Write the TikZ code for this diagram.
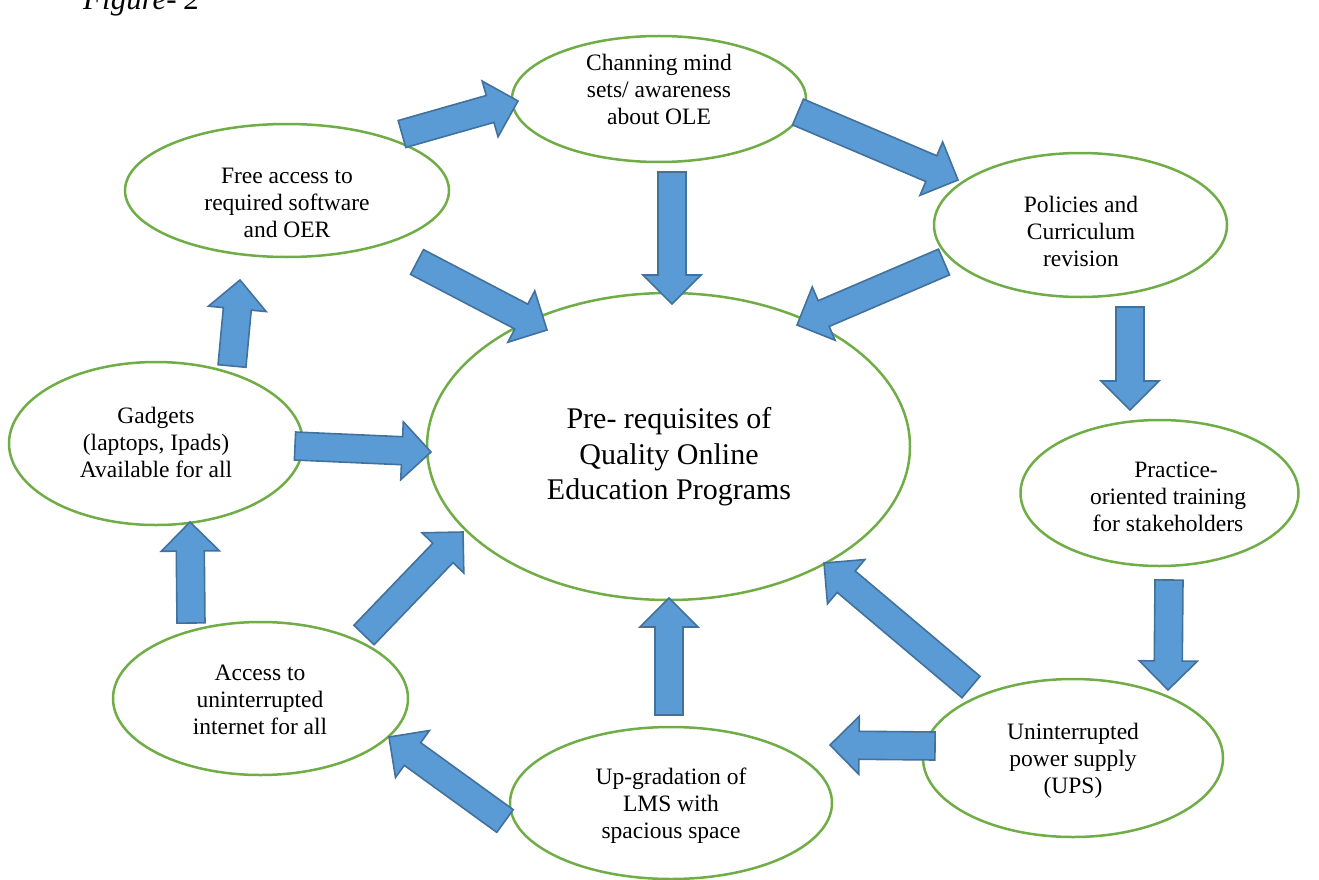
\documentclass[tikz,border=0pt]{standalone}
\usepackage{fontspec}
\setmainfont{Liberation Serif}
\usetikzlibrary{shapes.geometric,calc}
\definecolor{egreen}{HTML}{70AD47}
\definecolor{afill}{HTML}{5B9BD5}
\definecolor{aline}{HTML}{41719C}
\tikzset{
  ell/.style={ellipse, draw=egreen, line width=2.5pt, fill=white, inner sep=0pt},
  lbl/.style={align=center, font=\fontsize{23.5}{27}\selectfont, inner sep=0pt},
  bigl/.style={align=center, font=\fontsize{30}{35.5}\selectfont, inner sep=0pt},
  blockarrow/.style={fill=afill, draw=aline, line width=1.6pt, line join=miter},
}
\newcommand\blk[2]{\path[blockarrow] let \p1=(#1), \p2=(#2), \n1={atan2(\y2-\y1,\x2-\x1)}, \n2={veclen(\x2-\x1,\y2-\y1)} in [shift={(\p1)}, rotate=\n1] (0,-14) -- (\n2-29,-14) -- (\n2-29,-29) -- (\n2,0) -- (\n2-29,29) -- (\n2-29,14) -- (0,14) -- cycle;}
\begin{document}
\begin{tikzpicture}[x=1pt,y=-1pt]
\useasboundingbox (0,0) rectangle (1319,880);
\node[anchor=base west, inner sep=0pt, font=\itshape\fontsize{31}{36}\selectfont] (fig) at (83,10) {Figure- 2};
% ellipses
\node[ell, minimum width=294, minimum height=126] (e1) at (659,99) {};
\node[ell, minimum width=324, minimum height=133] (e2) at (287,190.5) {};
\node[ell, minimum width=293, minimum height=144] (e3) at (1080.5,225) {};
\node[ell, minimum width=483, minimum height=307] (ec) at (668.5,446.5) {};
\node[ell, minimum width=294, minimum height=163] (e5) at (156,443.5) {};
\node[ell, minimum width=278, minimum height=146] (e6) at (1159.5,493) {};
\node[ell, minimum width=295, minimum height=153] (e7) at (260.5,698.5) {};
\node[ell, minimum width=322, minimum height=152] (e8) at (671,803) {};
\node[ell, minimum width=300, minimum height=158] (e9) at (1073,758) {};
% texts
\node[lbl] (t1) at (659,89) {Channing mind\\sets/ awareness\\about OLE};
\node[lbl] (t2) at (287,203) {Free access to\\required software\\and OER};
\node[lbl] (t3) at (1081,231) {Policies and\\Curriculum\\revision};
\node[bigl] (tc) at (669,457) {Pre- requisites of\\Quality Online\\Education Programs};
\node[lbl] (t5) at (156,442) {Gadgets\\(laptops, Ipads)\\Available for all};
\node[lbl] (t6) at (1168,497) {\hspace*{16pt}Practice-\\oriented training\\for stakeholders};
\node[lbl] (t7) at (260,700) {Access to\\uninterrupted\\internet for all};
\node[lbl] (t8) at (671,806) {Up-gradation of\\LMS with\\spacious space};
\node[lbl] (t9) at (1073,761) {Uninterrupted\\power supply\\(UPS)};
% arrow end points
\coordinate (a1s) at (402,134);  \coordinate (a1e) at (518,101);
\coordinate (a2s) at (672,172);  \coordinate (a2e) at (672,304);
\coordinate (a3s) at (798,112);  \coordinate (a3e) at (958,180);
\coordinate (a4s) at (944,262);  \coordinate (a4e) at (797,325);
\coordinate (a5s) at (417,262);  \coordinate (a5e) at (547,330);
\coordinate (a6s) at (1130,307); \coordinate (a6e) at (1130,410);
\coordinate (a7s) at (1169,580); \coordinate (a7e) at (1168,690);
\coordinate (a8s) at (971,687);  \coordinate (a8e) at (824,563);
\coordinate (a9s) at (935,746);  \coordinate (a9e) at (830,745);
\coordinate (a10s) at (669,715); \coordinate (a10e) at (669,598);
\coordinate (a11s) at (505,821); \coordinate (a11e) at (389,737);
\coordinate (a12s) at (364,635); \coordinate (a12e) at (463,532);
\coordinate (a13s) at (191,623); \coordinate (a13e) at (190,522);
\coordinate (a14s) at (232,366); \coordinate (a14e) at (240,280);
\coordinate (a15s) at (295,446); \coordinate (a15e) at (431,452);
\blk{a1s}{a1e}
\blk{a2s}{a2e}
\blk{a3s}{a3e}
\blk{a4s}{a4e}
\blk{a5s}{a5e}
\blk{a6s}{a6e}
\blk{a7s}{a7e}
\blk{a8s}{a8e}
\blk{a9s}{a9e}
\blk{a10s}{a10e}
\blk{a11s}{a11e}
\blk{a12s}{a12e}
\blk{a13s}{a13e}
\blk{a14s}{a14e}
\blk{a15s}{a15e}
\end{tikzpicture}
\end{document}
